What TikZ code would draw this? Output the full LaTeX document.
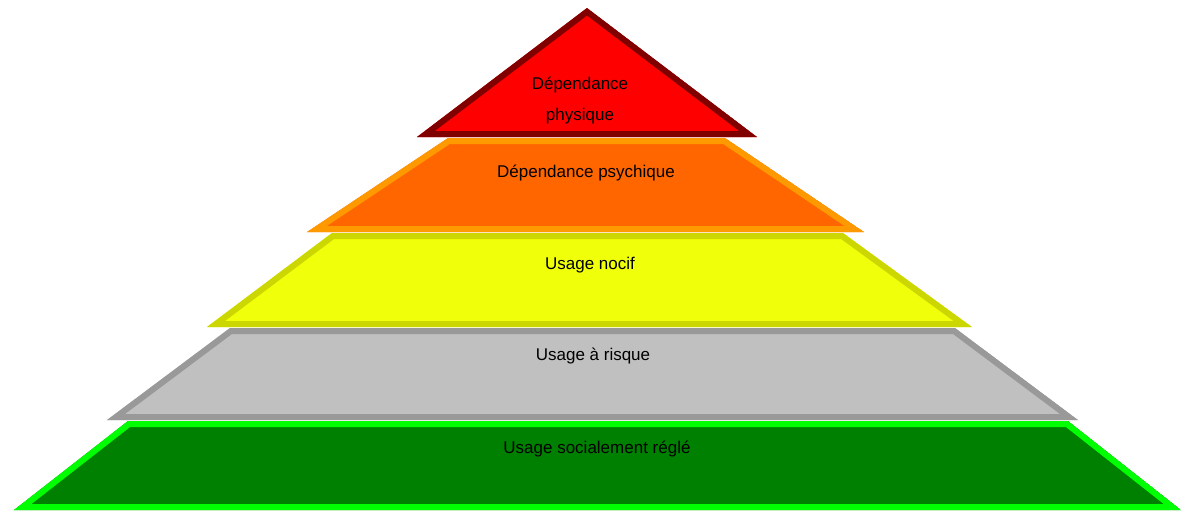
\documentclass[tikz,border=0pt]{standalone}
\usepackage{fontspec}
\setmainfont{Liberation Sans}
\definecolor{redfill}{RGB}{255,0,0}
\definecolor{redline}{RGB}{128,0,0}
\definecolor{orafill}{RGB}{255,102,0}
\definecolor{oraline}{RGB}{255,153,0}
\definecolor{yelfill}{RGB}{240,255,10}
\definecolor{yelline}{RGB}{204,214,0}
\definecolor{grafill}{RGB}{192,192,192}
\definecolor{graline}{RGB}{153,153,153}
\definecolor{grnfill}{RGB}{0,128,0}
\definecolor{grnline}{RGB}{0,255,0}
\tikzset{
  lbl/.style={anchor=base,font=\fontsize{17}{20}\selectfont,text=black,inner sep=0pt},
}
\newcommand{\layer}[3]{%
  \begin{scope}
    \clip #1;
    \filldraw[line width=12pt,draw=#2,fill=#3] #1;
  \end{scope}}
\begin{document}
\begin{tikzpicture}[x=1pt,y=-1pt]
\useasboundingbox (0,0) rectangle (1181,511);
\layer{(587,8) -- (757,137) -- (417,137) -- cycle}{redline}{redfill}
\layer{(448,138) -- (725,138) -- (864,232) -- (307,232) -- cycle}{oraline}{orafill}
\layer{(332,233) -- (843,233) -- (972,327) -- (207,327) -- cycle}{yelline}{yelfill}
\layer{(230,328) -- (955,328) -- (1078,420) -- (107,420) -- cycle}{graline}{grafill}
\layer{(128,421) -- (1068,421) -- (1181,510) -- (14,510) -- cycle}{grnline}{grnfill}
\node[lbl] (t1) at (580,89) {Dépendance};
\node[lbl] (t2) at (580,120) {physique};
\node[lbl] (t3) at (586,177) {Dépendance psychique};
\node[lbl] (t4) at (590,269) {Usage nocif};
\node[lbl] (t5) at (593,360) {Usage à risque};
\node[lbl] (t6) at (597,453) {Usage socialement réglé};
\end{tikzpicture}
\end{document}
